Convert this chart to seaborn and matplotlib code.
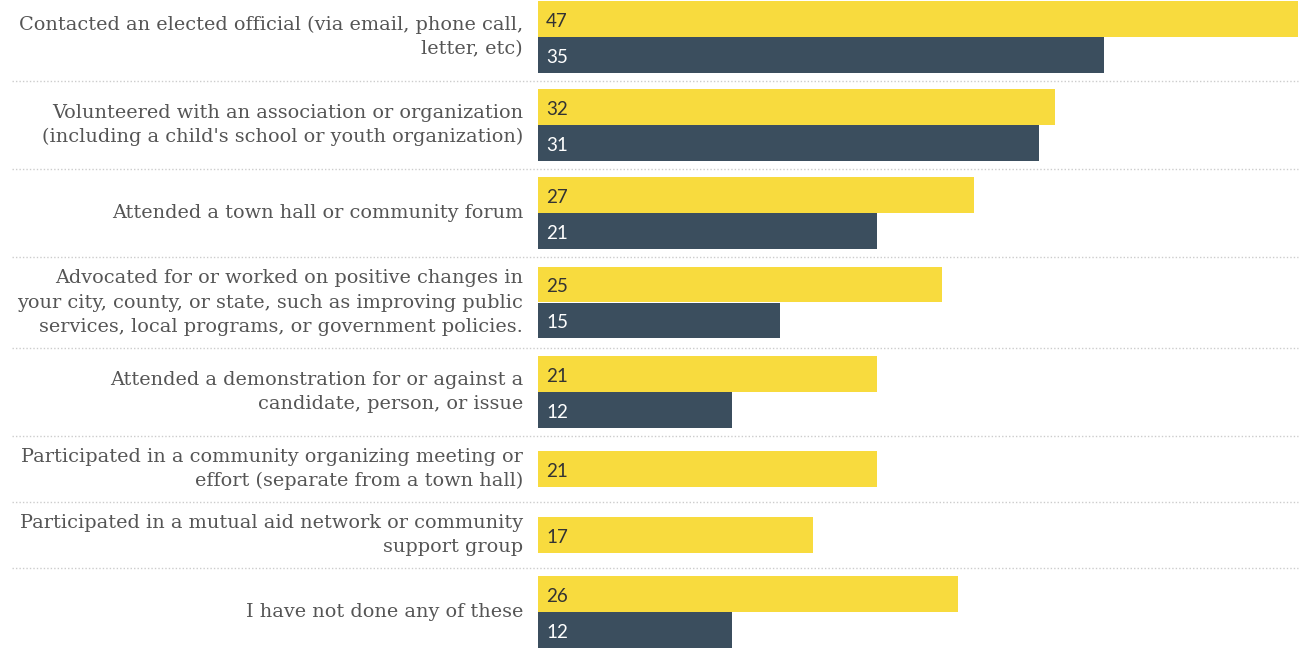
import matplotlib
matplotlib.use("Agg")
import matplotlib.pyplot as plt
import matplotlib.transforms as mtransforms
import seaborn as sns
import pandas as pd
import numpy as np

# ---------------- data ----------------
categories = [
    "Contacted an elected official (via email, phone call,\nletter, etc)",
    "Volunteered with an association or organization\n(including a child's school or youth organization)",
    "Attended a town hall or community forum",
    "Advocated for or worked on positive changes in\nyour city, county, or state, such as improving public\nservices, local programs, or government policies.",
    "Attended a demonstration for or against a\ncandidate, person, or issue",
    "Participated in a community organizing meeting or\neffort (separate from a town hall)",
    "Participated in a mutual aid network or community\nsupport group",
    "I have not done any of these",
]
series_names = ["Series 1", "Series 2"]
series1_values = [47, 32, 27, 25, 21, 21, 17, 26]
series2_values = [35, 31, 21, 15, 12, None, None, 12]

colors = {"Series 1": "#F8DB3E", "Series 2": "#3B4E5E"}
text_colors = {"Series 1": "#333333", "Series 2": "#FFFFFF"}

# ---------------- layout (pixel units on y) ----------------
W, H, DPI = 1301, 648, 100
BAR_H = 36
LINE_H = 25
PAD = 16
TOP = -7

rows = []
group_tops, group_bottoms, group_centers = [], [], []
y = TOP
for i, cat in enumerate(categories):
    vals = [(series_names[0], series1_values[i]), (series_names[1], series2_values[i])]
    vals = [(s, v) for s, v in vals if v is not None]
    nlines = cat.count("\n") + 1
    gh = max(len(vals) * BAR_H, nlines * LINE_H) + PAD
    start = y + (gh - len(vals) * BAR_H) / 2 + BAR_H / 2
    for j, (s, v) in enumerate(vals):
        rows.append({"category": cat, "series": s, "value": v, "pos": start + j * BAR_H})
    group_tops.append(y)
    group_centers.append(y + gh / 2)
    y += gh
    group_bottoms.append(y)

df = pd.DataFrame(rows)

# ---------------- figure ----------------
sns.set_theme(style="white")
plt.rcParams["font.family"] = ["DejaVu Serif"]

fig = plt.figure(figsize=(W / DPI, H / DPI), dpi=DPI)
ax_left = 538 / W
ax_right = 1297.5 / W
ax = fig.add_axes([ax_left, 0, ax_right - ax_left, 1])

sns.barplot(
    data=df, x="value", y="pos", hue="series", palette=colors,
    orient="h", native_scale=True, dodge=False, width=0.98,
    legend=False, ax=ax, saturation=1, linewidth=0,
)

ax.set_xlim(0, 47)
ax.set_ylim(H, 0)
ax.axis("off")

# value labels
for _, r in df.iterrows():
    ax.annotate(
        f"{r['value']:g}", xy=(0, r["pos"] + 1), xytext=(8 * 72 / DPI, 0),
        textcoords="offset points", ha="left", va="center_baseline",
        fontsize=13.5, family="Lato", color=text_colors[r["series"]],
    )

# category labels
trans = mtransforms.blended_transform_factory(ax.transAxes, ax.transData)
label_x = -15 / (W * (ax_right - ax_left))
for cat, cy in zip(categories, group_centers):
    ax.text(label_x, cy, cat, transform=trans, ha="right", va="center",
            multialignment="right", fontsize=13.9, color="#555555",
            linespacing=1.45)

# dotted separators
sep_xmin = (12 - 538) / (W * (ax_right - ax_left))
for yb in group_bottoms[:-1]:
    ax.axhline(yb, xmin=sep_xmin, xmax=1, color="#cccccc", linewidth=1,
               linestyle=(0, (1, 1.5)), clip_on=False)

fig.savefig("out.png", dpi=DPI)
